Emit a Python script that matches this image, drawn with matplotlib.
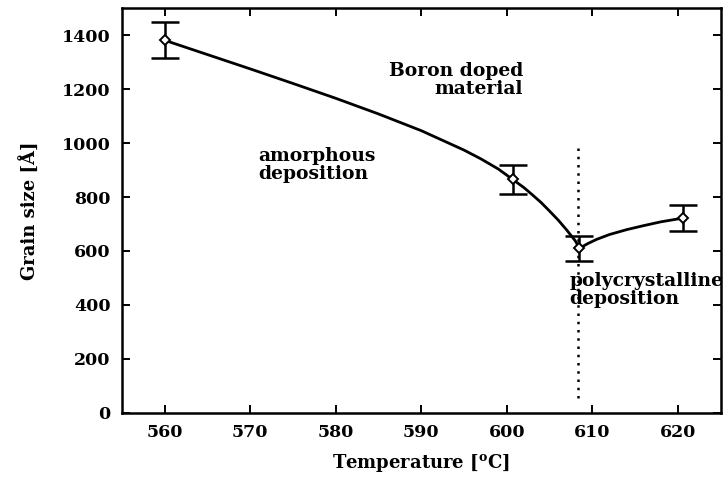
import numpy as np
import matplotlib
matplotlib.use('Agg')
import matplotlib.pyplot as plt

#--------------------
# measured grain sizes with error bars
temp = [560, 600.7, 608.5, 620.6]
grain = [1381, 865, 610, 722]
err = [66, 54, 46, 47]

# guide curve, amorphous branch
curve1_t = [560, 565, 570, 575, 580, 585, 590, 595, 597, 599, 600.7,
            602, 603, 604, 605, 606, 607, 608, 608.5]
curve1_g = [1381, 1328, 1275, 1221, 1166, 1108, 1046, 974, 941, 904, 865,
            835, 808, 780, 748, 715, 678, 638, 610]
# polycrystalline branch
curve2_t = [608.5, 609.5, 610.5, 612, 614, 616, 618, 620.6]
curve2_g = [610, 628, 643, 661, 679, 694, 708, 722]

xticks = [560, 570, 580, 590, 600, 610, 620]
yticks = [0, 200, 400, 600, 800, 1000, 1200, 1400]

t_trans = 608.3
#--------------------
plt.rcParams['font.family'] = ['DejaVu Serif']
plt.rcParams['font.weight'] = 'bold'
plt.rcParams['mathtext.fontset'] = 'dejavuserif'

fig = plt.figure(figsize=(7.25, 4.79), dpi=100)
ax = fig.add_axes([0.168, 0.138, 0.826, 0.845])

ax.plot(curve1_t, curve1_g, 'k-', lw=2.0, zorder=3, solid_joinstyle='round')
ax.plot(curve2_t, curve2_g, 'k-', lw=2.0, zorder=3, solid_joinstyle='round')
ax.errorbar(temp, grain, yerr=err, fmt='none', ecolor='k', elinewidth=1.8,
            capsize=10, capthick=1.8, zorder=4)
ax.plot(temp, grain, 'D', color='k', mfc='white', ms=5, mew=1.4, zorder=5)

ax.plot([t_trans, t_trans], [55, 1000], color='k', lw=1.8,
        linestyle=(0, (1, 2.3)), zorder=2)

ax.text(571, 920, 'amorphous\ndeposition', fontsize=13.5, fontweight='bold',
        ha='left', va='center', linespacing=1.0)
ax.text(601.9, 1232, 'Boron doped\nmaterial', fontsize=13.5, fontweight='bold',
        ha='right', va='center', linespacing=1.0, multialignment='right')
ax.text(607.3, 455, 'polycrystalline\ndeposition', fontsize=13.5, fontweight='bold',
        ha='left', va='center', linespacing=1.0, clip_on=False, zorder=1)

ax.set_xlim(555, 625)
ax.set_ylim(0, 1500)
ax.set_xticks(xticks)
ax.set_yticks(yticks)
ax.tick_params(direction='in', length=6, width=1.4, top=True, right=True,
               labelsize=12.5, pad=8)
for lab in ax.get_xticklabels() + ax.get_yticklabels():
    lab.set_fontweight('bold')
for sp in ax.spines.values():
    sp.set_linewidth(1.8)

ax.set_xlabel('Temperature [$^{\\mathbf{o}}$C]', fontsize=13, fontweight='bold', labelpad=8)
ax.set_ylabel('Grain size [Å]', fontsize=13, fontweight='bold', labelpad=16)

fig.savefig('out.png', dpi=100)
